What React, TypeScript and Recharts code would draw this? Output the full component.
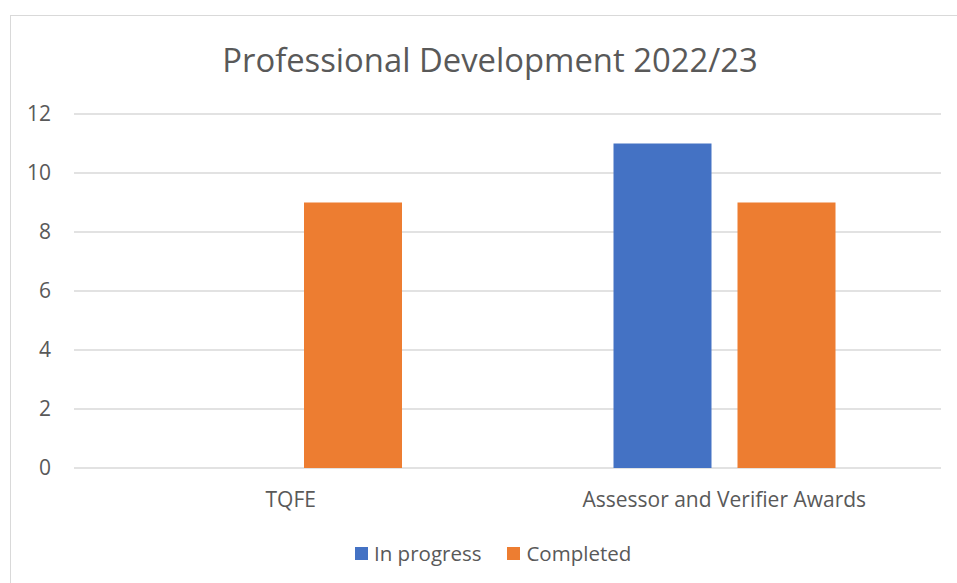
import React from "react";
import { BarChart, Bar, XAxis, YAxis, CartesianGrid } from "recharts";

const categories = ["TQFE", "Assessor and Verifier Awards"];
const inProgress = [0, 11];
const completed = [9, 9];
const yTicks = [0, 2, 4, 6, 8, 10, 12];
const seriesNames = ["In progress", "Completed"];
const colors = ["#4472C4", "#ED7D31"];

const data = categories.map((c, i) => ({
  name: c,
  inProgress: inProgress[i],
  completed: completed[i],
}));

const FONT = "'Open Sans', sans-serif";

export default function App() {
  return (
    <div style={{ position: "relative", width: 957, height: 583, overflow: "hidden", background: "#fff" }}>
      <style>{"body{margin:0}"}</style>
      <div
        style={{
          position: "absolute",
          left: 10,
          top: 15,
          width: 980,
          height: 620,
          border: "1px solid #d9d9d9",
          boxSizing: "border-box",
        }}
      />
      <div
        style={{
          position: "absolute",
          left: 0,
          width: 980,
          top: 37,
          textAlign: "center",
          fontFamily: FONT,
          fontSize: 32.8,
          color: "#595959",
          lineHeight: "46px",
        }}
      >
        Professional Development 2022/23
      </div>
      <div style={{ position: "absolute", left: 0, top: 0 }}>
        <BarChart
          width={957}
          height={583}
          data={data}
          margin={{ top: 114, right: 16, bottom: 85, left: 0 }}
          barGap={26}
          barSize={98}
        >
          <CartesianGrid vertical={false} stroke="#d9d9d9" strokeWidth={1.3} />
          <XAxis
            dataKey="name"
            height={30}
            axisLine={false}
            tickLine={false}
            tickMargin={18}
            tick={{ fill: "#595959", fontSize: 21, fontFamily: FONT }}
          />
          <YAxis
            width={74}
            domain={[0, 12]}
            ticks={yTicks}
            axisLine={false}
            tickLine={false}
            tickMargin={17}
            tick={{ fill: "#595959", fontSize: 21, fontFamily: FONT }}
          />
          <Bar dataKey="inProgress" name={seriesNames[0]} fill={colors[0]} isAnimationActive={false} />
          <Bar dataKey="completed" name={seriesNames[1]} fill={colors[1]} isAnimationActive={false} />
        </BarChart>
      </div>
      <div
        style={{
          position: "absolute",
          left: 355,
          top: 539,
          display: "flex",
          fontFamily: FONT,
          fontSize: 20.5,
          color: "#595959",
          lineHeight: "28px",
        }}
      >
        {seriesNames.map((n, i) => (
          <div key={n} style={{ display: "flex", alignItems: "center", marginRight: i === 0 ? 26 : 0 }}>
            <div style={{ width: 13, height: 13, background: colors[i], marginRight: 6 }} />
            <span>{n}</span>
          </div>
        ))}
      </div>
    </div>
  );
}
